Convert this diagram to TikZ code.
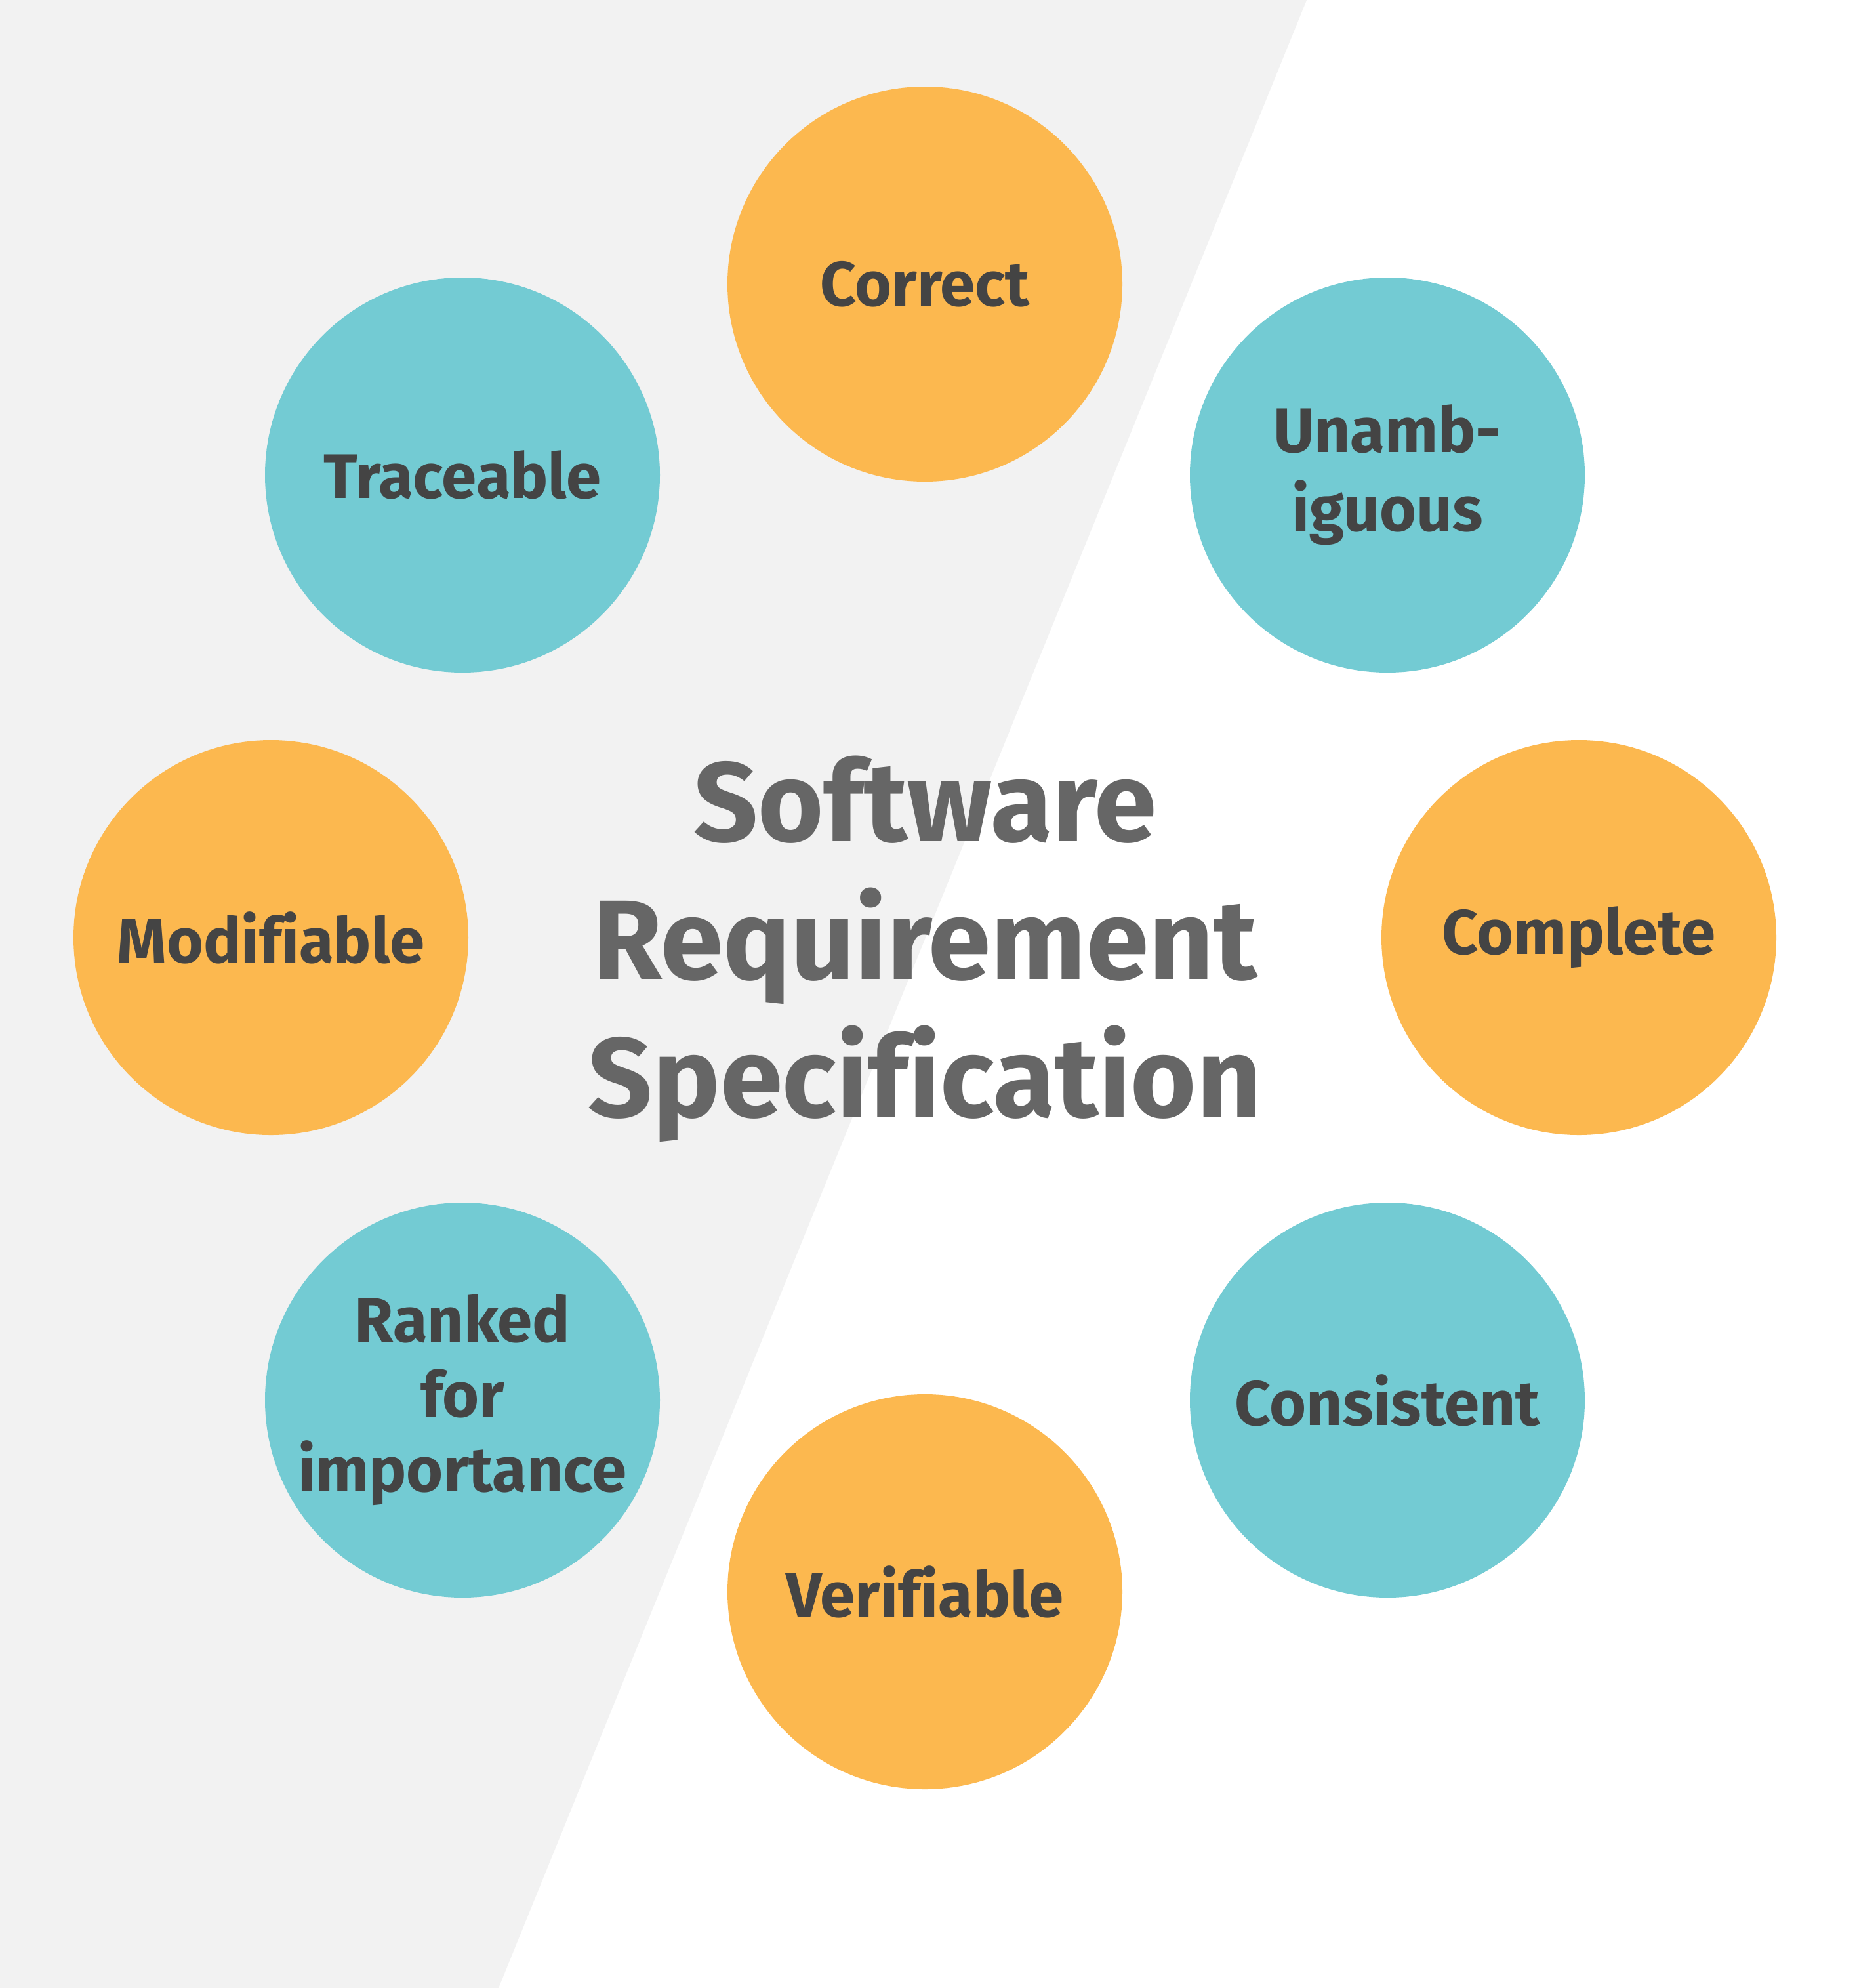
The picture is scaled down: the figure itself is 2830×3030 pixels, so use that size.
\documentclass[tikz,border=0pt]{standalone}
\usepackage{fontspec}
\setmainfont{Fira Sans}[Ligatures=NoCommon]
\definecolor{bggray}{HTML}{F2F2F2}
\definecolor{orng}{HTML}{FCB84F}
\definecolor{teal}{HTML}{73CBD3}
\definecolor{txtdark}{HTML}{444444}
\definecolor{txtmid}{HTML}{666666}
\begin{document}
\begin{tikzpicture}[x=0.25pt,y=-0.25pt,
  bubble/.style={circle,minimum size=150.5pt,inner sep=0pt,align=center,text=txtdark,
    font=\fontsize{24}{28.5}\selectfont\bfseries},
  obub/.style={bubble,fill=orng},
  tbub/.style={bubble,fill=teal},
  title/.style={align=center,text=txtmid,font=\fontsize{43}{52.5}\selectfont\bfseries}]
\useasboundingbox (0,0) rectangle (2830,3030);
\fill[white] (0,0) rectangle (2830,3030);
\fill[bggray] (0,0) -- (1992,0) -- (760,3030) -- (0,3030) -- cycle;
\node[obub] (correct) at (1410,433) {Correct};
\node[tbub] (trace) at (705,724) {Traceable};
\node[tbub,font=\fontsize{24}{30}\selectfont\bfseries] (unamb) at (2115,724) {Unamb-\\iguous};
\node[obub] (modif) at (413,1429) {Modifiable};
\node[obub] (complete) at (2407,1429) {Complete};
\node[tbub] (ranked) at (705,2134) {Ranked\\for\\importance};
\node[tbub] (consist) at (2115,2134) {Consistent};
\node[obub] (verif) at (1410,2426) {Verifiable};
\node[title] (srs) at (1410,1446) {Software\\Requirement\\Specification};
\end{tikzpicture}
\end{document}
